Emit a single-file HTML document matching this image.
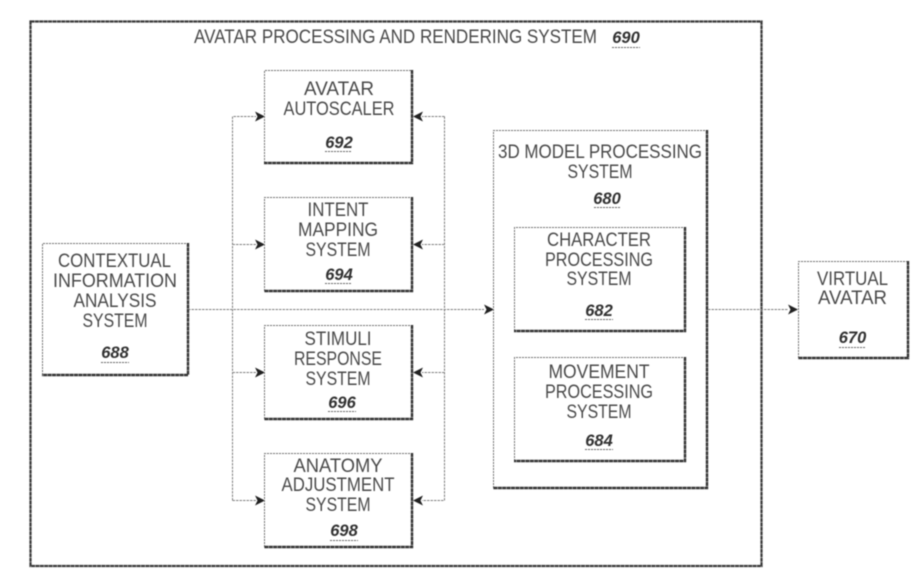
<!DOCTYPE html>
<html><head><meta charset="utf-8"><style>
html,body{margin:0;padding:0;background:#fff;width:918px;height:588px;overflow:hidden}
svg{display:block}
text{font-family:"Liberation Sans",sans-serif;font-size:19px;fill:#4a4a4a;text-anchor:middle}
.n{font-weight:bold;font-style:italic;font-size:16.5px;fill:#333}
.t{fill:none;stroke:#707070;stroke-width:1;stroke-dasharray:2 1}
.s{fill:none;stroke:#333;stroke-width:2.4;stroke-dasharray:4 .4}
.c{fill:none;stroke:#808080;stroke-width:1;stroke-dasharray:2.5 1}
.u{fill:none;stroke:#666;stroke-width:1;stroke-dasharray:2 1}
.a{fill:#222}
</style></head><body>
<svg width="918" height="588" viewBox="0 0 918 588" xmlns="http://www.w3.org/2000/svg">
<defs><filter id="b" x="-2%" y="-2%" width="104%" height="104%"><feGaussianBlur stdDeviation="0.5"/></filter></defs>
<rect width="918" height="588" fill="#fff"/>
<g filter="url(#b)">
<!-- outer -->
<rect x="30.500" y="21.500" width="731" height="544.500" fill="none" stroke="#3a3a3a" stroke-width="2.200" stroke-dasharray="4 .4"/>
<!-- connectors -->
<path class="c" d="M188 309.500H484M708 309.500H788M232.500 500.500V116.500H256M232.500 244.500H256M232.500 372.500H256M232.500 500.500H256M444.500 116.500V500.500H422M444.500 116.500H422M444.500 244.500H422M444.500 372.500H422"/>
<path class="a" d="M255 111.500l10 5-10 5 2.500-5zM255 239.500l10 5-10 5 2.500-5zM255 367.500l10 5-10 5 2.500-5zM255 495.500l10 5-10 5 2.500-5z"/>
<path class="a" d="M423 111.500l-10 5 10 5-2.500-5zM423 239.500l-10 5 10 5-2.500-5zM423 367.500l-10 5 10 5-2.500-5zM423 495.500l-10 5 10 5-2.500-5z"/>
<path class="a" d="M484 304.500l10 5-10 5 2.500-5zM788 304.500l10 5-10 5 2.500-5z"/>
<!-- boxes -->
<path class="t" d="M264.500 163V70.500H412M264.500 291V197.500H412M264.500 419V325.500H412M264.500 547V453.500H412M42.500 375V243.500H188M493.500 488V130.500H707M514.500 331V227.500H685M514.500 461V357.500H685M798.500 358V261.500H908"/>
<path class="s" d="M412 70V163H264M412 197V291H264M412 325V419H264M412 453V547H264M188 243V375H42M707 130V488H493M685 227V331H514M685 357V461H514M908 261V358H798"/>
<!-- labels -->
<text x="395.500" y="43" textLength="403" lengthAdjust="spacingAndGlyphs">AVATAR PROCESSING AND RENDERING SYSTEM</text>
<text class="n" x="626" y="43">690</text><path class="u" d="M612 47.500H640"/>

<text x="339" y="95" textLength="70" lengthAdjust="spacingAndGlyphs">AVATAR</text>
<text x="339" y="115" textLength="111" lengthAdjust="spacingAndGlyphs">AUTOSCALER</text>
<text class="n" x="339" y="148">692</text><path class="u" d="M325 151.500H352"/>

<text x="338" y="216" textLength="61" lengthAdjust="spacingAndGlyphs">INTENT</text>
<text x="338" y="236" textLength="80" lengthAdjust="spacingAndGlyphs">MAPPING</text>
<text x="338" y="256" textLength="65" lengthAdjust="spacingAndGlyphs">SYSTEM</text>
<text class="n" x="339" y="280">694</text><path class="u" d="M325 283.500H352"/>

<text x="338" y="345" textLength="67" lengthAdjust="spacingAndGlyphs">STIMULI</text>
<text x="338" y="365" textLength="88" lengthAdjust="spacingAndGlyphs">RESPONSE</text>
<text x="338" y="385" textLength="65" lengthAdjust="spacingAndGlyphs">SYSTEM</text>
<text class="n" x="342" y="408">696</text><path class="u" d="M328 411.500H356"/>

<text x="338" y="472" textLength="89" lengthAdjust="spacingAndGlyphs">ANATOMY</text>
<text x="338" y="491" textLength="113" lengthAdjust="spacingAndGlyphs">ADJUSTMENT</text>
<text x="338" y="511" textLength="65" lengthAdjust="spacingAndGlyphs">SYSTEM</text>
<text class="n" x="344" y="536">698</text><path class="u" d="M330 540.500H358"/>

<text x="114.500" y="267" textLength="113" lengthAdjust="spacingAndGlyphs">CONTEXTUAL</text>
<text x="115" y="287" textLength="124" lengthAdjust="spacingAndGlyphs">INFORMATION</text>
<text x="115" y="307" textLength="83" lengthAdjust="spacingAndGlyphs">ANALYSIS</text>
<text x="115" y="327" textLength="65" lengthAdjust="spacingAndGlyphs">SYSTEM</text>
<text class="n" x="115" y="358">688</text><path class="u" d="M101 362.500H129"/>

<text x="600" y="158" textLength="204" lengthAdjust="spacingAndGlyphs">3D MODEL PROCESSING</text>
<text x="600" y="178" textLength="65" lengthAdjust="spacingAndGlyphs">SYSTEM</text>
<text class="n" x="607" y="204">680</text><path class="u" d="M594 207.500H621"/>

<text x="599" y="246" textLength="104" lengthAdjust="spacingAndGlyphs">CHARACTER</text>
<text x="599" y="266" textLength="108" lengthAdjust="spacingAndGlyphs">PROCESSING</text>
<text x="599" y="285" textLength="65" lengthAdjust="spacingAndGlyphs">SYSTEM</text>
<text class="n" x="599" y="316">682</text><path class="u" d="M585 319.500H613"/>

<text x="599" y="378" textLength="101" lengthAdjust="spacingAndGlyphs">MOVEMENT</text>
<text x="599" y="398" textLength="108" lengthAdjust="spacingAndGlyphs">PROCESSING</text>
<text x="599" y="418" textLength="65" lengthAdjust="spacingAndGlyphs">SYSTEM</text>
<text class="n" x="599" y="446">684</text><path class="u" d="M585 449.500H613"/>

<text x="852.500" y="285" textLength="71" lengthAdjust="spacingAndGlyphs">VIRTUAL</text>
<text x="852.500" y="304" textLength="69" lengthAdjust="spacingAndGlyphs">AVATAR</text>
<text class="n" x="852.500" y="343">670</text><path class="u" d="M839 347.500H866"/>
</g>
</svg>
</body></html>
